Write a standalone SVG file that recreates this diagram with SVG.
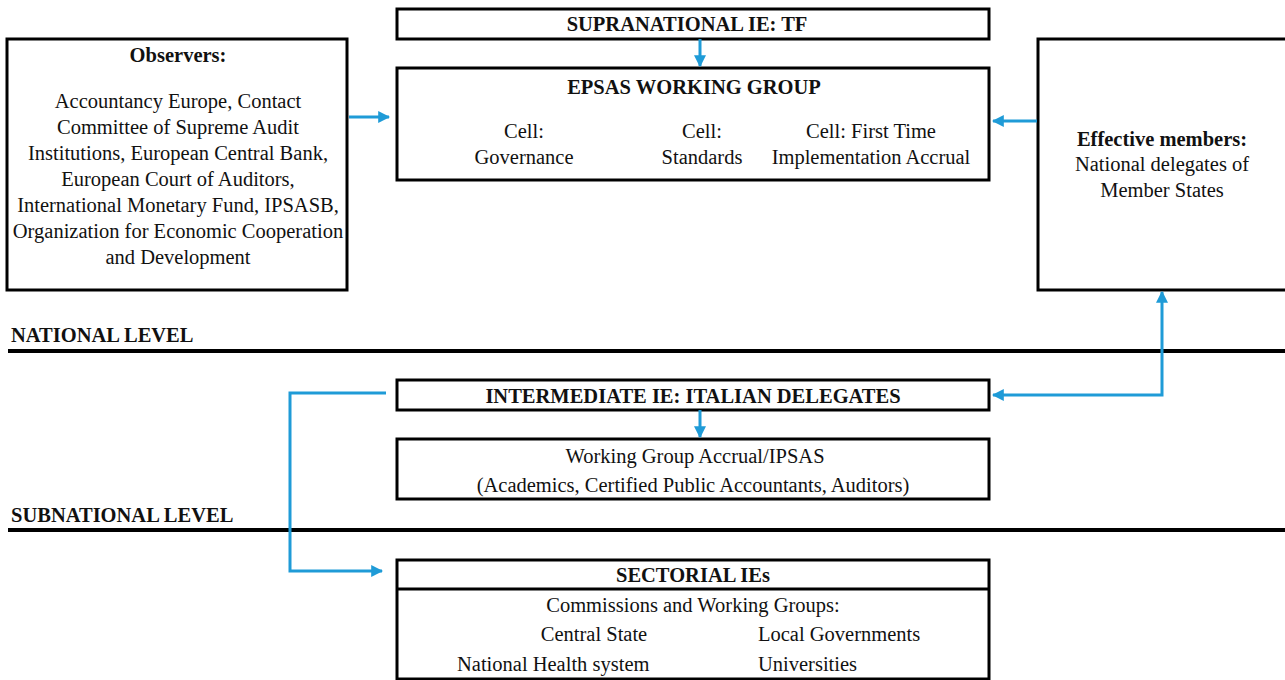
<svg xmlns="http://www.w3.org/2000/svg" width="1285" height="680" viewBox="0 0 1285 680">
<defs>
<style>
.box{fill:#fff;stroke:#000;stroke-width:3}
text{font-family:"Liberation Serif","Times New Roman",serif;font-size:20.5px;fill:#111}
.b{font-weight:bold}
.c{text-anchor:middle}
.con{fill:none;stroke:#1f9bd7;stroke-width:3}
.lvl{stroke:#000;stroke-width:4}
</style>
<marker id="ah" viewBox="0 0 10 10" refX="9" refY="5" markerWidth="4" markerHeight="4" orient="auto-start-reverse" markerUnits="strokeWidth">
<path d="M0,0 L10,5 L0,10 z" fill="#1f9bd7"/>
</marker>
</defs>
<rect width="1285" height="680" fill="#fff"/>
<g id="levels">
<line class="lvl" x1="8" y1="351" x2="1285" y2="351"/>
<text class="b" x="11" y="342">NATIONAL LEVEL</text>
<line class="lvl" x1="8" y1="530" x2="1285" y2="530"/>
<text class="b" x="11" y="522">SUBNATIONAL LEVEL</text>
</g>
<g id="supranational">
<rect class="box" x="397" y="9" width="592" height="30"/>
<text class="b c" x="687" y="31">SUPRANATIONAL IE: TF</text>
</g>
<g id="epsas">
<rect class="box" x="397" y="68" width="592" height="112"/>
<text class="b c" x="694" y="94">EPSAS WORKING GROUP</text>
<text class="c" x="524" y="138">Cell:</text>
<text class="c" x="524" y="164">Governance</text>
<text class="c" x="702" y="138">Cell:</text>
<text class="c" x="702" y="164">Standards</text>
<text class="c" x="871" y="138">Cell: First Time</text>
<text class="c" x="871" y="164">Implementation Accrual</text>
</g>
<g id="observers">
<rect class="box" x="7" y="39" width="340" height="251"/>
<text class="b c" x="178" y="62">Observers:</text>
<text class="c" x="178" y="108">Accountancy Europe, Contact</text>
<text class="c" x="178" y="134">Committee of Supreme Audit</text>
<text class="c" x="178" y="160">Institutions, European Central Bank,</text>
<text class="c" x="178" y="186">European Court of Auditors,</text>
<text class="c" x="178" y="212">International Monetary Fund, IPSASB,</text>
<text class="c" x="178" y="238">Organization for Economic Cooperation</text>
<text class="c" x="178" y="264">and Development</text>
</g>
<g id="effective">
<rect class="box" x="1038" y="39" width="250" height="251"/>
<text class="b c" x="1162" y="146">Effective members:</text>
<text class="c" x="1162" y="171">National delegates of</text>
<text class="c" x="1162" y="197">Member States</text>
</g>
<g id="intermediate">
<rect class="box" x="397" y="380" width="592" height="30"/>
<text class="b c" x="693" y="403">INTERMEDIATE IE: ITALIAN DELEGATES</text>
</g>
<g id="workinggroup">
<rect class="box" x="397" y="439" width="592" height="60"/>
<text class="c" x="695" y="463">Working Group Accrual/IPSAS</text>
<text class="c" x="693" y="492">(Academics, Certified Public Accountants, Auditors)</text>
</g>
<g id="sectorial">
<rect class="box" x="397" y="560" width="592" height="119"/>
<line stroke="#000" stroke-width="3" x1="397" y1="589" x2="989" y2="589"/>
<text class="b c" x="693" y="582">SECTORIAL IEs</text>
<text class="c" x="693" y="612">Commissions and Working Groups:</text>
<text class="c" x="594" y="641">Central State</text>
<text x="758" y="641">Local Governments</text>
<text x="457" y="671">National Health system</text>
<text x="758" y="671">Universities</text>
</g>
<g id="connectors">
<path class="con" d="M700,39 V66" marker-end="url(#ah)"/>
<path class="con" d="M349,117 H389" marker-end="url(#ah)"/>
<path class="con" d="M1037,121 H993" marker-end="url(#ah)"/>
<path class="con" d="M700,410 V437" marker-end="url(#ah)"/>
<path class="con" d="M993,395 H1162 V292" marker-start="url(#ah)" marker-end="url(#ah)"/>
<path class="con" d="M386,393 H290 V571 H382" marker-end="url(#ah)"/>
</g>
</svg>
